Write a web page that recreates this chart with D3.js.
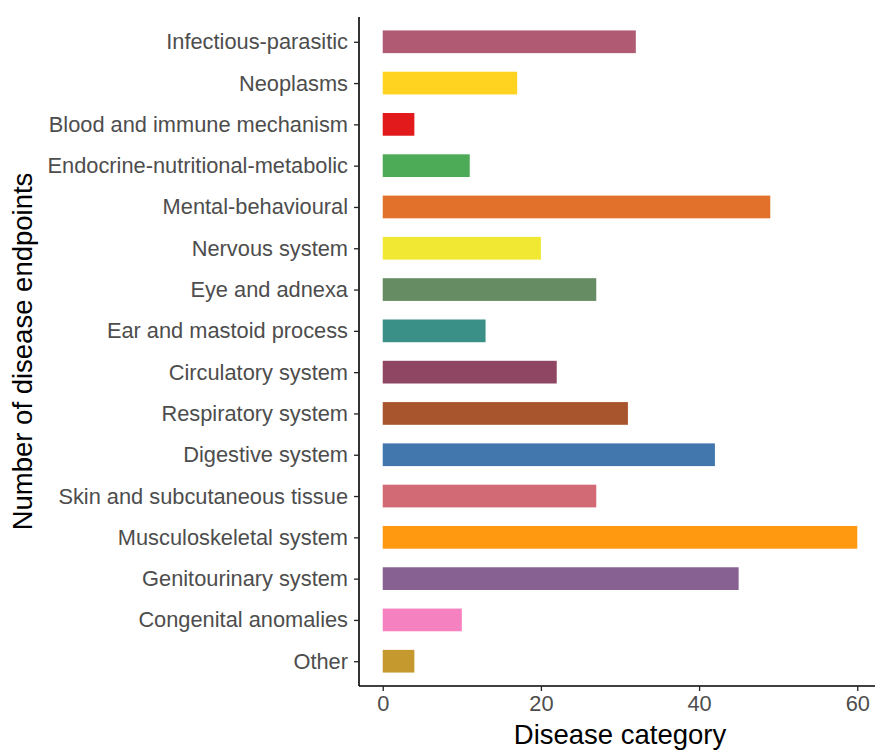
<!DOCTYPE html>
<html>
<head>
<meta charset="utf-8">
<script src="https://cdn.jsdelivr.net/npm/d3@7"></script>
<style>
  html, body { margin: 0; padding: 0; background: #fff; }
  svg { display: block; }
</style>
</head>
<body>
<svg id="chart" width="875" height="752"></svg>
<script>
const categories = [
  "Infectious-parasitic", "Neoplasms", "Blood and immune mechanism",
  "Endocrine-nutritional-metabolic", "Mental-behavioural", "Nervous system",
  "Eye and adnexa", "Ear and mastoid process", "Circulatory system",
  "Respiratory system", "Digestive system", "Skin and subcutaneous tissue",
  "Musculoskeletal system", "Genitourinary system", "Congenital anomalies", "Other"
];
const values = [32, 17, 4, 11, 49, 20, 27, 13, 22, 31, 42, 27, 60, 45, 10, 4];
const colors = [
  "#B05A74", "#FFD320", "#E31A1C", "#4DAA57", "#E2712C", "#F0E833",
  "#668C63", "#3A8F86", "#8E4662", "#A8552E", "#4277AD", "#D26A76",
  "#FF990F", "#866192", "#F681C0", "#C6992F"
];
const xTicks = [0, 20, 40, 60];
const xTitle = "Disease category";
const yTitle = "Number of disease endpoints";

const svg = d3.select("#chart");
const pLeft = 359, pRight = 881, pTop = 17, pBottom = 686;

const x = d3.scaleLinear().domain([-3, 63]).range([pLeft, pRight]);

// ggplot-like discrete axis: 0.6 expansion each side, bar width 0.55
const n = categories.length;
const step = (pBottom - pTop) / (n - 1 + 1.2);
const yc = d3.scalePoint().domain(categories).range([pTop + 0.6 * step, pBottom - 0.6 * step]);
const barH = 0.55 * step;

svg.append("g").selectAll("rect")
  .data(categories)
  .join("rect")
  .attr("x", x(0))
  .attr("y", d => yc(d) - barH / 2)
  .attr("width", (d, i) => x(values[i]) - x(0))
  .attr("height", barH)
  .attr("fill", (d, i) => colors[i]);

const fontFam = "'Liberation Sans', Arial, Helvetica, sans-serif";

const yAxis = svg.append("g")
  .attr("transform", `translate(${pLeft},0)`)
  .call(d3.axisLeft(yc).tickSize(5).tickPadding(6));
const xAxis = svg.append("g")
  .attr("transform", `translate(0,${pBottom})`)
  .call(d3.axisBottom(x).tickValues(xTicks).tickSize(5).tickPadding(5));

[yAxis, xAxis].forEach(g => {
  g.select(".domain").attr("stroke", "#000").attr("stroke-width", 1.6);
  g.selectAll(".tick line").attr("stroke", "#222").attr("stroke-width", 1.3);
  g.selectAll(".tick text")
    .attr("fill", "#4D4D4D")
    .style("font-family", fontFam)
    .style("font-size", "21.8px");
});
yAxis.select(".domain").attr("d", `M0,${pTop}V${pBottom}`);
xAxis.select(".domain").attr("d", `M${pLeft},0H${pRight}`);

svg.append("text")
  .attr("x", (pLeft + pRight) / 2)
  .attr("y", 744)
  .attr("text-anchor", "middle")
  .style("font-family", fontFam)
  .style("font-size", "27.5px")
  .attr("fill", "#000")
  .text(xTitle);

svg.append("text")
  .attr("transform", `translate(32,${(pTop + pBottom) / 2}) rotate(-90)`)
  .attr("text-anchor", "middle")
  .style("font-family", fontFam)
  .style("font-size", "27.5px")
  .attr("fill", "#000")
  .text(yTitle);
</script>
</body>
</html>
